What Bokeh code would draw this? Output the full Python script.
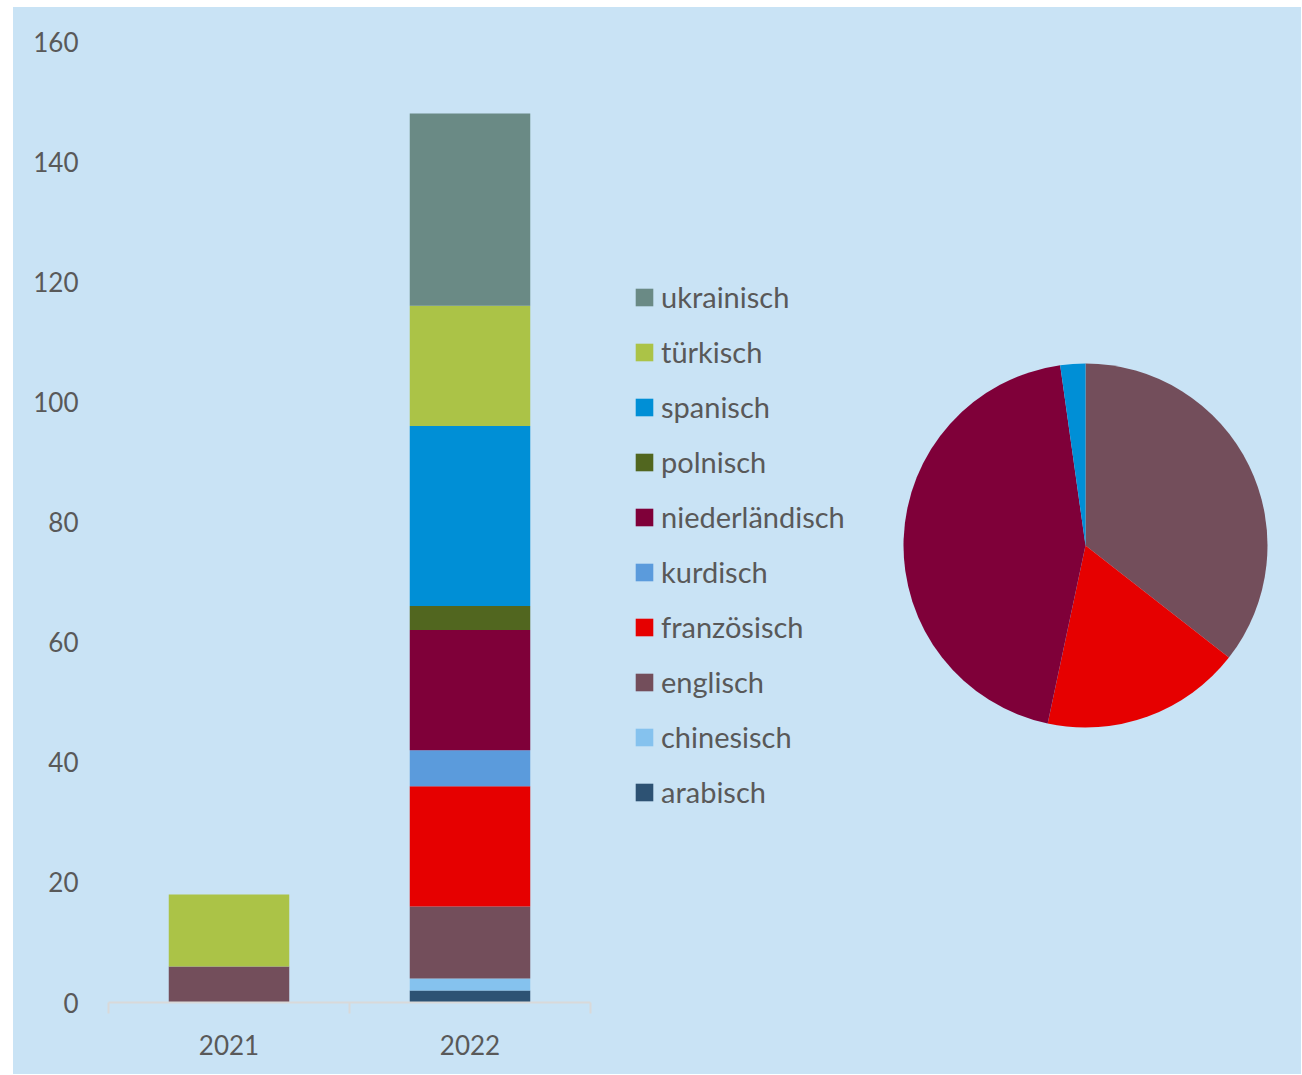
import numpy as np
from bokeh.plotting import figure
from bokeh.models import ColumnDataSource, Range1d, FixedTicker, Legend, LegendItem
from bokeh.layouts import row
from bokeh.embed import file_html
from bokeh.resources import INLINE
from bokeh.core.properties import value

# ---------------- data ----------------
years = ["2021", "2022"]
languages = ["arabisch", "chinesisch", "englisch", "französisch", "kurdisch",
             "niederländisch", "polnisch", "spanisch", "türkisch", "ukrainisch"]
keys = ["arabisch", "chinesisch", "englisch", "franzoesisch", "kurdisch",
        "niederlaendisch", "polnisch", "spanisch", "tuerkisch", "ukrainisch"]
arabisch = [0, 2]
chinesisch = [0, 2]
englisch = [6, 12]
franzoesisch = [0, 20]
kurdisch = [0, 6]
niederlaendisch = [0, 20]
polnisch = [0, 4]
spanisch = [0, 30]
tuerkisch = [12, 20]
ukrainisch = [0, 32]
colors = ["#2D5273", "#85C2EE", "#734E5B", "#E60000", "#5B9BDC",
          "#7F0039", "#51661F", "#008FD6", "#ABC347", "#6A8A85"]
# pie shares (same language order)
pie_values = [0, 0, 16, 8, 0, 20, 0, 1, 0, 0]
y_ticks = [0, 20, 40, 60, 80, 100, 120, 140, 160]

BG = "#C9E3F5"
TXT = "#595959"
FONT = "Lato"

TOP, BOTTOM = 34, 72
H = 1067

# ---------------- bar chart ----------------
series = [arabisch, chinesisch, englisch, franzoesisch, kurdisch,
          niederlaendisch, polnisch, spanisch, tuerkisch, ukrainisch]
data = {"x": [i + 0.5 for i in range(len(years))], "year": years}
for k, s in zip(keys, series):
    data[k] = s
src = ColumnDataSource(data)

p1 = figure(width=595, height=H, x_range=Range1d(0, len(years)),
            y_range=Range1d(0, 160), output_backend="svg", toolbar_location=None,
            min_border_left=95, min_border_right=18, min_border_top=TOP,
            min_border_bottom=BOTTOM)
p1.vbar_stack(keys, x="x", width=0.5, color=colors, source=src, line_color=None)

p1.background_fill_color = None
p1.border_fill_color = None
p1.outline_line_color = None
p1.grid.grid_line_color = None

p1.xaxis.ticker = FixedTicker(ticks=data["x"], minor_ticks=list(range(len(years) + 1)))
p1.xaxis.major_label_overrides = {x: y for x, y in zip(data["x"], years)}
p1.xaxis.axis_line_color = "#D9D9D9"
p1.xaxis.axis_line_width = 2
p1.xaxis.major_tick_line_color = None
p1.xaxis.major_tick_out = 0
p1.xaxis.major_tick_in = 0
p1.xaxis.minor_tick_line_color = "#D9D9D9"
p1.xaxis.minor_tick_line_width = 2
p1.xaxis.minor_tick_out = 11
p1.xaxis.minor_tick_in = 0
p1.xaxis.major_label_standoff = 21
p1.xaxis.major_label_text_font = FONT
p1.xaxis.major_label_text_font_size = "26px"
p1.xaxis.major_label_text_color = TXT

p1.yaxis.ticker = FixedTicker(ticks=y_ticks)
p1.yaxis.axis_line_color = None
p1.yaxis.major_tick_line_color = None
p1.yaxis.minor_tick_line_color = None
p1.yaxis.major_tick_out = 0
p1.yaxis.major_tick_in = 0
p1.yaxis.major_label_standoff = 30
p1.yaxis.major_label_text_font = FONT
p1.yaxis.major_label_text_font_size = "26px"
p1.yaxis.major_label_text_color = TXT

# ---------------- pie + legend ----------------
R = 182.0
W2 = 693
frame_h = H - TOP - BOTTOM
cx, cy_top = 477.0, 504.0   # pie centre inside the frame (px)
p2 = figure(width=W2, height=H,
            x_range=Range1d(-cx / R, (W2 - cx) / R),
            y_range=Range1d(-(frame_h - cy_top) / R, cy_top / R),
            output_backend="svg", toolbar_location=None,
            min_border_left=0, min_border_right=0,
            min_border_top=TOP, min_border_bottom=BOTTOM)
p2.axis.visible = False
p2.grid.grid_line_color = None
p2.outline_line_color = None
p2.background_fill_color = None
p2.border_fill_color = None

vals = np.array(pie_values, dtype=float)
frac = vals / vals.sum()
cum = np.concatenate([[0], np.cumsum(frac)])
mask = vals > 0
pie_src = ColumnDataSource(dict(
    start=(np.pi / 2 - 2 * np.pi * cum[:-1])[mask],
    end=(np.pi / 2 - 2 * np.pi * cum[1:])[mask],
    color=[c for c, m in zip(colors, mask) if m],
    lang=[l for l, m in zip(languages, mask) if m],
))
p2.wedge(x=0, y=0, radius=1, start_angle="start", end_angle="end",
         direction="clock", fill_color="color", line_color=None, source=pie_src)

items = []
for lang, col in reversed(list(zip(languages, colors))):
    # off-screen proxy glyph, only used for the legend swatch
    r = p2.vbar(x=[1000], top=[1], width=0.1, fill_color=col, line_color=None)
    items.append(LegendItem(label=value(lang), renderers=[r]))
legend = Legend(items=items, location=(25, 193), orientation="vertical",
                glyph_width=22, glyph_height=22, label_standoff=6, spacing=20,
                padding=0, margin=0, border_line_color=None,
                background_fill_alpha=0,
                label_text_font=FONT, label_text_font_size="29px",
                label_text_color=TXT)
p2.add_layout(legend)

layout = row(p1, p2, margin=(7, 0, 0, 13), styles={"background-color": BG})
open("out.html", "w").write(file_html(layout, INLINE))
